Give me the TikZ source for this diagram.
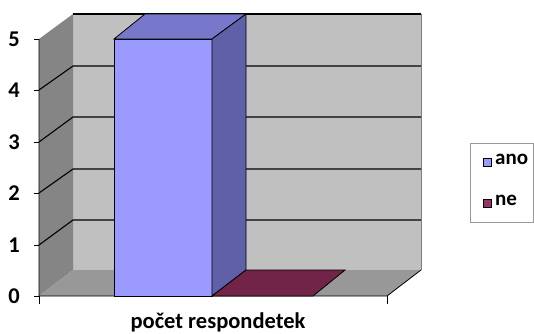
\documentclass[tikz,border=0pt]{standalone}
\usepackage{fontspec}
\setmainfont{Carlito}
\usetikzlibrary{calc}
\definecolor{wallback}{HTML}{C0C0C0}
\definecolor{wallside}{HTML}{858585}
\definecolor{floorgray}{HTML}{989898}
\definecolor{anofront}{HTML}{9999FF}
\definecolor{anotop}{HTML}{7777CC}
\definecolor{anoside}{HTML}{6060A8}
\definecolor{nefloor}{HTML}{722448}
\definecolor{nekey}{HTML}{993366}
\tikzset{
  grid line/.style={line width=1.1pt, black},
  axis line/.style={line width=0.8pt, black},
  key box/.style={draw=black, line width=1pt, minimum size=8pt, inner sep=0pt},
  key text/.style={anchor=mid west, inner sep=0pt, font=\fontsize{21}{24}\selectfont\bfseries},
}

\begin{document}
\begin{tikzpicture}[x=1pt, y=-1pt, font=\fontsize{22.5}{26}\selectfont\bfseries]
			%%%%% FRAME %%%%%
			\useasboundingbox (0, 0) rectangle (534, 333);
			
			% walls and floor
			\fill[wallback] (73, 14) rectangle (421, 270);
			\draw[gray, line width=1pt] (421, 14) -- (421, 270);
			\fill[wallside] (39, 39) -- (73, 14) -- (73, 270) -- (39, 296) -- cycle;
			\fill[floorgray] (39, 296) -- (387, 296) -- (421, 270) -- (73, 270) -- cycle;
			
			% grid lines
			\draw[grid line] (73, 14) -- (421, 14);
			\foreach \yb/\yf in {66/90, 117/142, 169/193, 220/245}
			{
				\draw[grid line] (39, \yf) -- (73, \yb) -- (421, \yb);
			}
			
			% axes and ticks
			\draw[axis line] (39, 39) -- (39, 296) -- (387, 296) -- (421, 270);
			\foreach \yf/\val in {39/5, 90/4, 142/3, 193/2, 245/1, 296/0}
			{
				\draw[axis line] (34, \yf) -- (39, \yf);
				\node[anchor=east, inner sep=0pt] at (20, \yf) {\val};
			}
			\draw[axis line] (39, 296) -- (39, 304);
			\draw[axis line] (387, 296) -- (387, 304);
			
			%%%%% BARS %%%%%
			% ano
			\draw[fill=anofront, line width=0.8pt] (114, 39) rectangle (212, 296);
			\draw[fill=anotop, line width=0.8pt] (114, 39) -- (145, 14) -- (246, 14) -- (212, 39) -- cycle;
			\draw[fill=anoside, line width=0.8pt] (212, 39) -- (246, 14) -- (246, 270) -- (212, 296) -- cycle;
			
			% ne
			\draw[fill=nefloor, line width=0.8pt] (212, 296) -- (313, 296) -- (345, 270) -- (246, 270) -- cycle;
			
			\node[inner sep=0pt] (xlabel) at (218, 322) {počet respondetek};
			
			%%%%% LEGEND %%%%%
			\draw[gray!80, line width=0.6pt] (470, 143) rectangle (533, 222);
			\node[key box, fill=anofront] (anokey) at (487.5, 162) {};
			\node[key text] (anotext) at (495, 162) {ano};
			\node[key box, fill=nekey] (nekey) at (487.5, 203.5) {};
			\node[key text] (netext) at (495, 203.5) {ne};
			%%%%% END %%%%%
\end{tikzpicture}
\end{document}
